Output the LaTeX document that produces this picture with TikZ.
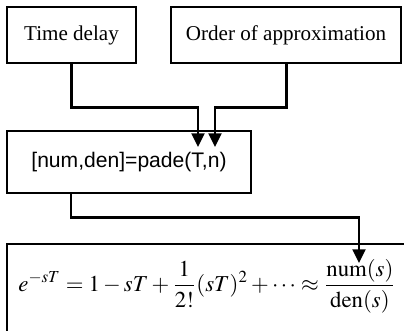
\documentclass[tikz,border=0pt]{standalone}
\usepackage{mathptmx}
\usepackage[no-math]{fontspec}
\setmainfont{Liberation Serif}
\newfontfamily\helvfont{Liberation Sans}
\usetikzlibrary{arrows.meta}
\begin{document}
\begin{tikzpicture}[
    block/.style={rectangle, draw, line width=0.8pt, inner sep=0pt, align=center, font=\fontsize{10}{12}\selectfont},
    arrow/.style={-{Triangle[length=6.5pt,width=6pt]}, line width=1.4pt}
]
\useasboundingbox (0,0) rectangle (6.733,5.5);
\clip (0,0) rectangle (6.733,5.5);
% Inputs on top
\node[block, minimum width=2.15cm, minimum height=0.933cm] (delay) at (1.192,4.917) {Time delay};
\node[block, minimum width=3.833cm, minimum height=0.933cm] (order) at (4.767,4.917) {Order of approximation};
% MATLAB call
\node[block, minimum width=4.067cm, minimum height=1.033cm, font=\helvfont\fontsize{10}{12}\selectfont] (pade) at (2.15,2.8) {[num,den]=pade(T,n)};
% Result (runs past the frame)
\node[block, minimum width=7.083cm, minimum height=1.933cm] (result) at (3.658,0.467) {};
\node[anchor=west, inner sep=0pt, font=\fontsize{10.8}{13}\selectfont] (formula) at (0.3,0.733)
    {$\displaystyle e^{-sT} = 1 - sT + \frac{1}{2!}(sT)^2 + \cdots \approx \frac{\mathrm{num}(s)}{\mathrm{den}(s)}$};
% Connector ends
\coordinate (in1) at (3.3,3.05);
\coordinate (in2) at (3.583,3.05);
\coordinate (pout) at ([xshift=-0.967cm]pade.south);
\coordinate (in3) at (5.983,1.117);
\draw[arrow] (delay.south) -- ++(0,-0.733) -| (in1);
\draw[arrow] (order.south) -- ++(0,-0.733) -| (in2);
\draw[arrow] (pout) -- ++(0,-0.4) -| (in3);
\end{tikzpicture}
\end{document}
